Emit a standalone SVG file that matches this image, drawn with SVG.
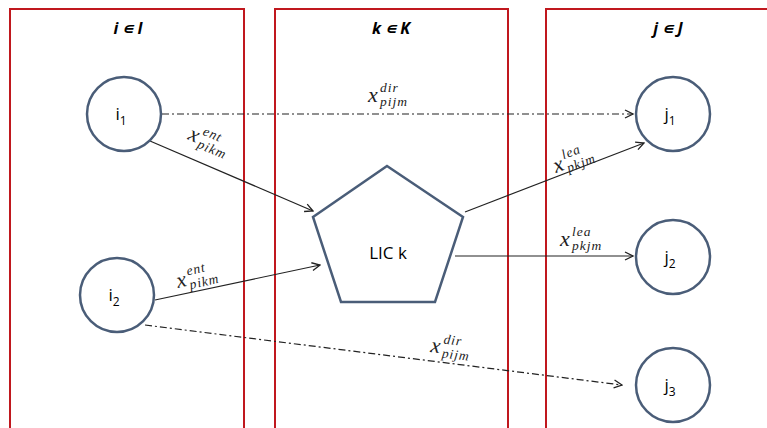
<svg xmlns="http://www.w3.org/2000/svg" width="767" height="428" viewBox="0 0 767 428">
<style>
.panel{fill:none;stroke:#c0181e;stroke-width:2}
.title{font-family:"Open Sans","Liberation Sans",sans-serif;font-weight:bold;font-style:italic;font-size:16px;fill:#000;text-anchor:middle}
.node{fill:#fff;stroke:#4a5d78;stroke-width:2.5}
.nlabel{font-family:"Open Sans","Liberation Sans",sans-serif;font-size:17px;fill:#000;text-anchor:middle}
.sub{font-size:12px}
.conn{fill:none;stroke:#222;stroke-width:1.2}
.dd{stroke-dasharray:7 3 2 3}
.vx{font-family:"Liberation Serif",serif;font-style:italic;font-size:22px;fill:#222}
.vs{font-family:"Liberation Serif",serif;font-style:italic;font-size:13.5px;letter-spacing:1px;fill:#222}
</style>
<defs>
<marker id="arr" viewBox="0 0 10 10" refX="9" refY="5" markerWidth="10" markerHeight="10" markerUnits="userSpaceOnUse" orient="auto">
<path d="M1,1 L9,5 L1,9" fill="none" stroke="#222" stroke-width="1.3"/>
</marker>
</defs>
<g id="panels">
<rect class="panel" x="10" y="9" width="234" height="430"/>
<rect class="panel" x="275" y="9" width="233" height="430"/>
<rect class="panel" x="546" y="9" width="240" height="430"/>
<text class="title" x="128" y="34">i ∊ I</text>
<text class="title" x="391" y="34">k ∊ K</text>
<text class="title" x="668" y="34">j ∊ J</text>
</g>
<g id="connectors">
<line class="conn dd" x1="162" y1="114" x2="633" y2="114" marker-end="url(#arr)"/>
<line class="conn" x1="150" y1="141" x2="313" y2="211" marker-end="url(#arr)"/>
<line class="conn" x1="155" y1="300" x2="320" y2="265" marker-end="url(#arr)"/>
<line class="conn" x1="465" y1="212" x2="644" y2="143" marker-end="url(#arr)"/>
<line class="conn" x1="455" y1="256" x2="633" y2="256" stroke="#555" marker-end="url(#arr)"/>
<line class="conn dd" x1="145" y1="325" x2="622" y2="385" marker-end="url(#arr)"/>
<g transform="translate(368,102)"><text class="vx" x="0" y="0">x</text><text class="vs" x="12" y="-10">dir</text><text class="vs" x="12" y="4">pijm</text></g>
<g transform="translate(187,139) rotate(23)"><text class="vx" x="0" y="0">x</text><text class="vs" x="12" y="-10">ent</text><text class="vs" x="12" y="4">pikm</text></g>
<g transform="translate(178,288) rotate(-13)"><text class="vx" x="0" y="0">x</text><text class="vs" x="12" y="-10">ent</text><text class="vs" x="12" y="4">pikm</text></g>
<g transform="translate(556,173) rotate(-21)"><text class="vx" x="0" y="0">x</text><text class="vs" x="12" y="-10">lea</text><text class="vs" x="12" y="4">pkjm</text></g>
<g transform="translate(560,246)"><text class="vx" x="0" y="0">x</text><text class="vs" x="12" y="-10">lea</text><text class="vs" x="12" y="4">pkjm</text></g>
<g transform="translate(430,352) rotate(7)"><text class="vx" x="0" y="0">x</text><text class="vs" x="12" y="-10">dir</text><text class="vs" x="12" y="4">pijm</text></g>
</g>
<g id="i1"><circle class="node" cx="124" cy="114" r="37"/><text class="nlabel" x="121" y="120">i<tspan class="sub" dy="5">1</tspan></text></g>
<g id="i2"><circle class="node" cx="117" cy="295" r="37"/><text class="nlabel" x="114" y="301">i<tspan class="sub" dy="5">2</tspan></text></g>
<g id="lic"><polygon class="node" points="387,166 463,217 435,302 341,302 313,217"/><text class="nlabel" x="388" y="259">LIC k</text></g>
<g id="j1"><circle class="node" cx="673" cy="114" r="37"/><text class="nlabel" x="670" y="120">j<tspan class="sub" dy="5">1</tspan></text></g>
<g id="j2"><circle class="node" cx="673" cy="257" r="37"/><text class="nlabel" x="670" y="263">j<tspan class="sub" dy="5">2</tspan></text></g>
<g id="j3"><circle class="node" cx="673" cy="385" r="37"/><text class="nlabel" x="670" y="391">j<tspan class="sub" dy="5">3</tspan></text></g>
</svg>
